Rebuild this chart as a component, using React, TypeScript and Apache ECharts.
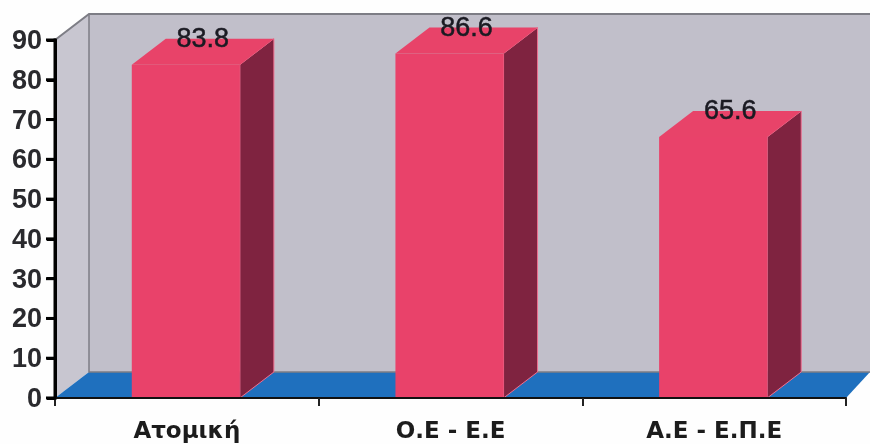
import React, { useEffect, useRef } from "react";
import * as echarts from "echarts";

const categories = ["Ατομική", "Ο.Ε - Ε.Ε", "Α.Ε - Ε.Π.Ε"];
const values = [83.8, 86.6, 65.6];
const valueLabels = ["83.8", "86.6", "65.6"];
const yTicks = [0, 10, 20, 30, 40, 50, 60, 70, 80, 90];
const yMax = 90;
const yStep = 10;

const DX = 34;
const DY = 26;

export default function App() {
  const ref = useRef<HTMLDivElement>(null);
  useEffect(() => {
    document.body.style.margin = "0";
    document.body.style.background = "#fefefe";
    const chart = echarts.init(ref.current!, undefined, { renderer: "svg" });
    chart.setOption({
      animation: false,
      textStyle: { fontFamily: "Liberation Sans" },
      grid: { left: 55, right: 24, top: 40, bottom: 46 },
      xAxis: {
        type: "category",
        data: categories,
        z: 5,
        axisLine: { lineStyle: { color: "#111", width: 2 } },
        axisTick: { show: true, length: 8, alignWithLabel: false, lineStyle: { color: "#222", width: 2 } },
        axisLabel: { color: "#1c1c1c", fontSize: 23, fontWeight: "bold", margin: 20, fontFamily: "DejaVu Sans" },
        splitLine: { show: false },
      },
      yAxis: {
        type: "value",
        position: "left",
        min: 0,
        max: yMax,
        interval: yStep,
        z: 5,
        axisLine: { show: true, onZero: false, lineStyle: { color: "#000", width: 3 } },
        axisTick: { show: true, length: 8, lineStyle: { color: "#000", width: 3 } },
        axisLabel: { color: "#2a2a2e", fontSize: 27, fontWeight: "bold", margin: 13, fontFamily: "Liberation Sans" },
        splitLine: { show: false },
      },
      series: [
        {
          type: "custom",
          z: 1,
          silent: true,
          coordinateSystem: "cartesian2d",
          data: [[0, 0]],
          renderItem: (params: any) => {
            const c = params.coordSys;
            const x0 = c.x, x1 = c.x + c.width, yT = c.y, yB = c.y + c.height;
            const wall = "#7d7d85";
            return {
              type: "group",
              children: [
                { type: "polygon", shape: { points: [[x0 + DX, yT - DY], [x1 + 24, yT - DY], [x1 + 24, yB - DY], [x0 + DX, yB - DY]] }, style: { fill: "#c1bfca" } },
                { type: "polygon", shape: { points: [[x0, yT], [x0 + DX, yT - DY], [x0 + DX, yB - DY], [x0, yB]] }, style: { fill: "#c8c6d0" } },
                { type: "polygon", shape: { points: [[x0, yB], [x0 + DX, yB - DY], [x1 + 24, yB - DY], [x1, yB]] }, style: { fill: "#1f70be" } },
                { type: "polyline", shape: { points: [[x0, yT], [x0 + DX, yT - DY], [x1 + 24, yT - DY]] }, style: { stroke: wall, fill: "none", lineWidth: 2 } },
                { type: "polyline", shape: { points: [[x0 + DX, yT - DY], [x0 + DX, yB - DY], [x1 + 24, yB - DY]] }, style: { stroke: wall, fill: "none", lineWidth: 1.5 } },
              ],
            };
          },
        },
        {
          type: "custom",
          z: 2,
          silent: true,
          encode: { x: 0, y: 1 },
          data: values.map((v, i) => [i, v, valueLabels[i]]),
          renderItem: (params: any, api: any) => {
            const idx = api.value(0);
            const v = api.value(1);
            const [cx, yTop] = api.coord([idx, v]);
            const [, yBase] = api.coord([idx, 0]);
            const w = api.size([1, 0])[0] * 0.41;
            const l = cx - w / 2 - 1;
            const r = l + w;
            const edge = "#ef6f8f";
            return {
              type: "group",
              children: [
                { type: "polygon", shape: { points: [[r, yTop], [r + DX, yTop - DY], [r + DX, yBase - DY], [r, yBase]] }, style: { fill: "#7f2340", stroke: edge, lineWidth: 1 } },
                { type: "polygon", shape: { points: [[l, yTop], [l + DX, yTop - DY], [r + DX, yTop - DY], [r, yTop]] }, style: { fill: "#e84369" } },
                { type: "rect", shape: { x: l, y: yTop, width: w, height: yBase - yTop }, style: { fill: "#e9426a" } },
                {
                  type: "text",
                  x: cx + 16,
                  y: yTop - 27,
                  style: {
                    text: valueLabels[idx],
                    fill: "#1a1a22",
                    font: "27px 'Liberation Sans'",
                    align: "center",
                    verticalAlign: "middle",
                    stroke: "#1a1a22",
                    lineWidth: 0.5,
                  },
                },
              ],
            };
          },
        },
      ],
    });
    const top = chart.convertToPixel({ yAxisIndex: 0 }, yMax);
    const bottom = chart.convertToPixel({ yAxisIndex: 0 }, 0);
    chart.setOption({
      graphic: [
        { type: "rect", z: 100, silent: true, shape: { x: 53.5, y: top - 1.5, width: 3, height: bottom - top + 3 }, style: { fill: "#000" } },
        ...yTicks.map((t) => ({
          type: "rect",
          z: 100,
          silent: true,
          shape: { x: 46, y: chart.convertToPixel({ yAxisIndex: 0 }, t) - 1.5, width: 9, height: 3 },
          style: { fill: "#000" },
        })),
      ],
    });
    return () => chart.dispose();
  }, []);
  return <div ref={ref} style={{ width: 870, height: 444, filter: "blur(0.4px)" }} />;
}
